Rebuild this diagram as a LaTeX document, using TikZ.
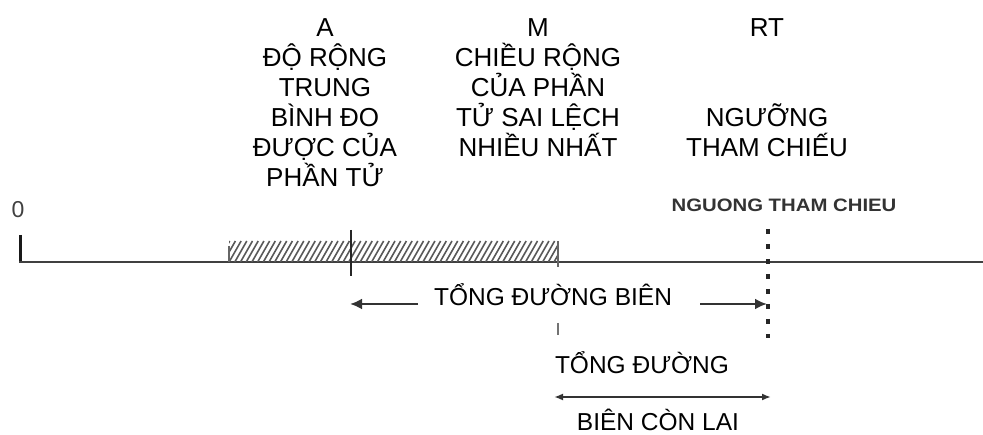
\documentclass[tikz,border=0pt]{standalone}
\usepackage{fontspec}
\setmainfont{Liberation Sans}
\usetikzlibrary{arrows.meta}
\begin{document}
\begin{tikzpicture}[x=1pt,y=-1pt,
  toptxt/.style={font=\fontsize{26}{30}\selectfont, inner sep=0pt, anchor=base},
  lowtxt/.style={font=\fontsize{24.5}{29}\selectfont, inner sep=0pt, anchor=base},
  axisline/.style={line width=2.8pt, draw=black!75},
  hatchline/.style={line width=1.6pt, draw=black!65},
  markline/.style={line width=2.2pt, draw=black!85},
  rtline/.style={line width=3.8pt, draw=black!85, dash pattern=on 5pt off 10pt},
  bigarrow/.style={line width=2.8pt, draw=black!80, -{Latex[length=12pt,width=11pt]}},
  dblarrow/.style={line width=2.4pt, draw=black!80,
    {Latex[length=9pt,width=7pt]}-{Latex[length=9pt,width=7pt]}}]
\useasboundingbox (0,0) rectangle (983,435);

% column headings
\foreach \t [count=\i] in {A,ĐỘ RỘNG,TRUNG,BÌNH ĐO,ĐƯỢC CỦA,PHẦN TỬ}
  \node[toptxt] (a\i) at (325,{36.7+30*(\i-1)}) {\t};
\foreach \t [count=\i] in {M,CHIỀU RỘNG,CỦA PHẦN,TỬ SAI LỆCH,NHIỀU NHẤT}
  \node[toptxt] (m\i) at (538,{36.7+30*(\i-1)}) {\t};
\node[toptxt] (rt1) at (767,36.7) {RT};
\node[toptxt] (rt4) at (767,126.7) {NGƯỠNG};
\node[toptxt] (rt5) at (767,156.7) {THAM CHIẾU};

% faint label above the threshold
\node[font=\bfseries\fontsize{18}{22}\selectfont, text=black!80, inner sep=0pt,
      anchor=base, xscale=1.13] (rtfaint) at (784,212) {NGUONG THAM CHIEU};

% origin and axis
\node[font=\fontsize{23}{26}\selectfont, text=black!75, inner sep=0pt, anchor=base]
  (zero) at (18,218) {0};
\coordinate (o) at (20,262);
\coordinate (oend) at (983,262);
\draw[line width=3pt, draw=black!90] (20,235) -- (o);
\draw[axisline] (19,262) -- (oend);

% hatched band between the start of the tolerance and M
\coordinate (hs) at (229,262);
\coordinate (mpos) at (558,262);
\begin{scope}
  \clip (229,241) rectangle (558,262);
  \foreach \x in {212,217.7,...,562}
    \draw[hatchline] (\x,262) -- ++(12,-21);
\end{scope}
\draw[line width=1.6pt, draw=black!60] (229,246) -- (hs);
\draw[line width=1.6pt, draw=black!60] (558,241) -- (558,267);

% mark at A
\coordinate (atop) at (351,230);
\coordinate (abot) at (351,276);
\draw[markline] (atop) -- (abot);

% dotted threshold RT
\coordinate (rttop) at (768,229);
\coordinate (rtbot) at (768,338);
\draw[rtline] (rttop) -- (rtbot);

% total margin
\node[lowtxt] (total) at (553,306) {TỔNG ĐƯỜNG BIÊN};
\coordinate (tl) at (418,304);
\coordinate (tla) at (350,304);
\coordinate (tr) at (700,304);
\coordinate (tra) at (767,304);
\draw[bigarrow] (tl) -- (tla);
\draw[bigarrow] (tr) -- (tra);

% remaining margin
\draw[line width=2pt, draw=black!55] (558,323) -- (558,335);
\node[lowtxt] (rem1) at (642,374) {TỔNG ĐƯỜNG};
\coordinate (rl) at (554,397);
\coordinate (rr) at (771,397);
\draw[dblarrow] (rl) -- (rr);
\node[lowtxt] (rem2) at (658,431) {BIÊN CÒN LAI};
\end{tikzpicture}
\end{document}
